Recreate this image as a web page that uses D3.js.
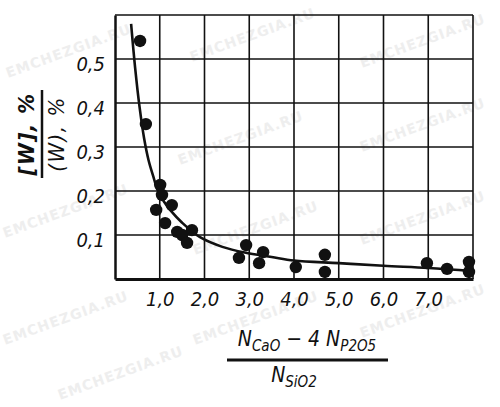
<!DOCTYPE html>
<html>
<head>
<meta charset="utf-8">
<script src="https://cdn.jsdelivr.net/npm/d3@7"></script>
<style>
  html, body { margin: 0; padding: 0; background: #fff; }
  svg { display: block; }
  text { font-family: "Liberation Sans Narrow", "DejaVu Sans Condensed", "Liberation Sans", sans-serif; }
</style>
</head>
<body>
<svg id="chart" width="500" height="407"></svg>
<script>
// ---- data ----
const xTicks = [1, 2, 3, 4, 5, 6, 7];
const xTickLabels = ["1,0", "2,0", "3,0", "4,0", "5,0", "6,0", "7,0"];
const yTicks = [0.1, 0.2, 0.3, 0.4, 0.5];
const yTickLabels = ["0,1", "0,2", "0,3", "0,4", "0,5"];
const gridX = [1, 2, 3, 4, 5, 6, 7, 8];
const gridY = [0.1, 0.2, 0.3, 0.4, 0.5, 0.6];

const pointsX = [0.56, 0.69, 1.01, 1.05, 0.92, 1.27, 1.12, 1.39, 1.50, 1.61, 1.72,
                 2.93, 2.77, 3.31, 3.22, 4.04, 4.69, 4.69, 6.97, 7.42, 7.91, 7.91];
const pointsY = [0.541, 0.352, 0.214, 0.191, 0.157, 0.168, 0.127, 0.107, 0.100, 0.082, 0.111,
                 0.077, 0.048, 0.061, 0.036, 0.027, 0.055, 0.016, 0.036, 0.023, 0.039, 0.016];

const curveX = [0.36, 0.45, 0.55, 0.65, 0.75, 0.85, 0.96, 1.1, 1.25, 1.5, 1.9, 2.4, 2.9, 3.5, 4.0, 5.0, 6.0, 7.0, 8.0];
const curveY = [0.58, 0.48, 0.39, 0.32, 0.27, 0.235, 0.20, 0.175, 0.155, 0.128, 0.095, 0.073, 0.06, 0.05, 0.042, 0.036, 0.03, 0.025, 0.018];

const watermarks = [
  [8, 78], [192, 62], [362, 68], [180, 165], [362, 152],
  [5, 238], [195, 255], [362, 245], [5, 345], [195, 345], [362, 338], [60, 400]
];

// ---- drawing ----
const svg = d3.select("#chart");
const x = d3.scaleLinear().domain([0, 8]).range([115, 473]);
const y = d3.scaleLinear().domain([0, 0.6]).range([279, 15]);

// watermarks
svg.append("g").selectAll("text").data(watermarks).join("text")
  .attr("transform", d => `translate(${d[0]},${d[1]}) rotate(-20)`)
  .attr("fill", "#eeeeee")
  .style("font-family", "'DejaVu Sans', sans-serif")
  .style("font-weight", "bold")
  .style("font-size", "14px")
  .style("letter-spacing", "1px")
  .text("EMCHEZGIA.RU");

// grid
const grid = svg.append("g").attr("stroke", "#111").attr("fill", "none");
grid.selectAll("line.v").data(gridX).join("line")
  .attr("x1", d => x(d)).attr("x2", d => x(d))
  .attr("y1", y(0.6)).attr("y2", y(0))
  .attr("stroke-width", 1.6);
grid.selectAll("line.h").data(gridY).join("line")
  .attr("x1", x(0)).attr("x2", x(8))
  .attr("y1", d => y(d)).attr("y2", d => y(d))
  .attr("stroke-width", 1.6);

// axes (left & bottom) using d3 axes, ticks hidden, labels styled
const xAxis = d3.axisBottom(x).tickValues(xTicks)
  .tickFormat((d, i) => xTickLabels[i]).tickSize(0).tickPadding(13);
const gx = svg.append("g").attr("transform", `translate(0,${y(0)})`).call(xAxis);
gx.select(".domain").attr("stroke", "#111").attr("stroke-width", 3);
gx.selectAll("text").attr("fill", "#111")
  .style("font-size", "20px").style("font-style", "italic")
  .attr("dy", "0.71em");

const yAxis = d3.axisLeft(y).tickValues(yTicks)
  .tickFormat((d, i) => yTickLabels[i]).tickSize(0).tickPadding(10);
const gy = svg.append("g").attr("transform", `translate(${x(0)},0)`).call(yAxis);
gy.select(".domain").attr("stroke", "#111").attr("stroke-width", 2.5);
gy.selectAll("text").attr("fill", "#111")
  .style("font-size", "20px").style("font-style", "italic")
  .attr("dy", "0.55em");

// fitted curve
const line = d3.line().x(d => x(d[0])).y(d => y(d[1])).curve(d3.curveCatmullRom);
svg.append("path")
  .datum(curveX.map((v, i) => [v, curveY[i]]))
  .attr("d", line)
  .attr("fill", "none").attr("stroke", "#111").attr("stroke-width", 2.6);

// points
svg.append("g").selectAll("circle")
  .data(pointsX.map((v, i) => [v, pointsY[i]]))
  .join("circle")
  .attr("cx", d => x(d[0])).attr("cy", d => y(d[1]))
  .attr("r", 6.2).attr("fill", "#111");

// y label (rotated fraction)
const yl = svg.append("g").attr("transform", "translate(42,134) rotate(-90)");
yl.append("line").attr("x1", -44).attr("x2", 44).attr("y1", 0).attr("y2", 0)
  .attr("stroke", "#111").attr("stroke-width", 2.5);
yl.append("text").attr("x", 0).attr("y", -8).attr("text-anchor", "middle")
  .attr("fill", "#111").style("font-size", "22px").style("font-style", "italic")
  .style("font-weight", "bold").style("letter-spacing", "1.5px").text("[W], %");
yl.append("text").attr("x", 0).attr("y", 22).attr("text-anchor", "middle")
  .attr("fill", "#111").style("font-size", "22px").style("font-style", "italic")
  .style("letter-spacing", "1.5px").text("(W), %");

// x label (fraction)
const xl = svg.append("g");
xl.append("line").attr("x1", 227).attr("x2", 388).attr("y1", 360).attr("y2", 360)
  .attr("stroke", "#111").attr("stroke-width", 2.8);
const num = xl.append("text").attr("x", 307).attr("y", 346).attr("text-anchor", "middle")
  .attr("fill", "#111").style("font-size", "21px").style("font-style", "italic");
num.append("tspan").text("N");
num.append("tspan").attr("dy", 5).style("font-size", "15px").text("CaO");
num.append("tspan").attr("dy", -5).text(" − 4 N");
num.append("tspan").attr("dy", 5).style("font-size", "15px").text("P2O5");
const den = xl.append("text").attr("x", 294).attr("y", 382).attr("text-anchor", "middle")
  .attr("fill", "#111").style("font-size", "21px").style("font-style", "italic");
den.append("tspan").text("N");
den.append("tspan").attr("dy", 5).style("font-size", "15px").text("SiO2");
</script>
</body>
</html>
